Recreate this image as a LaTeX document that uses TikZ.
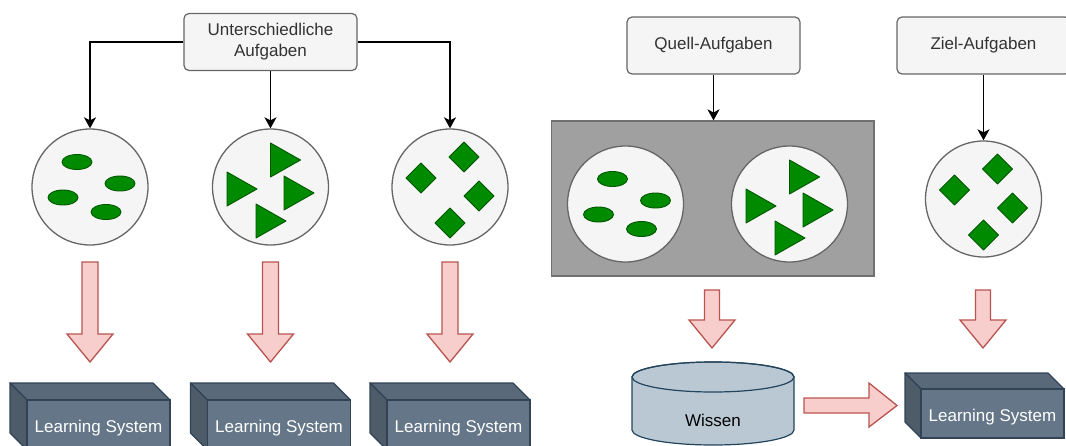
\documentclass[tikz,border=0pt]{standalone}
\usepackage{fontspec}
\setmainfont{Liberation Sans}
\usetikzlibrary{arrows.meta}

\definecolor{boxfill}{HTML}{F5F5F5}
\definecolor{boxline}{HTML}{666666}
\definecolor{boxtext}{HTML}{333333}
\definecolor{leafgreen}{HTML}{008A00}
\definecolor{leafline}{HTML}{005700}
\definecolor{pinkfill}{HTML}{F8CECC}
\definecolor{pinkline}{HTML}{B85450}
\definecolor{cubefront}{HTML}{647687}
\definecolor{cubetop}{HTML}{596979}
\definecolor{cubeside}{HTML}{4E5C6A}
\definecolor{cubeline}{HTML}{314354}
\definecolor{drumfill}{HTML}{BAC8D3}
\definecolor{drumline}{HTML}{23445D}
\definecolor{poolfill}{HTML}{A0A0A0}
\definecolor{poolline}{HTML}{707070}

\tikzset{
  taskbox/.style={draw=boxline, fill=boxfill, rounded corners=5pt, line width=1.2pt,
    minimum width=173pt, minimum height=57pt, align=center, text=boxtext,
    font=\fontsize{17}{21}\selectfont, inner sep=0pt},
  setcircle/.style={circle, draw=boxline, fill=boxfill, line width=1.3pt,
    minimum size=116pt, inner sep=0pt},
  conn/.style={line width=1.5pt, -{Stealth[length=11pt,width=12pt,inset=3pt]}},
  item/.style={fill=leafgreen, draw=leafline, line width=0.9pt, line join=round},
  bigarrow/.style={fill=pinkfill, draw=pinkline, line width=1.3pt, line join=miter},
  cubeface/.style={fill=cubefront, draw=cubeline, line width=1.2pt, inner sep=0pt},
  cubetext/.style={text=white, font=\fontsize{17}{21}\selectfont, inner sep=0pt},
  cubeshade/.style={draw=cubeline, line width=1.2pt, line join=round},
  pool/.style={fill=poolfill, draw=poolline, line width=1.2pt, inner sep=0pt},
}

% four green ovals around a centre
\newcommand\ovalset[2]{%
  \begin{scope}[shift={(#1,#2)}]
    \foreach \dx/\dy in {-13/-25, 30/-3.5, -27/10.5, 16/25}
      \draw[item] (\dx,\dy) ellipse [x radius=15, y radius=7.5];
  \end{scope}}
% four green triangles pointing right
\newcommand\triset[2]{%
  \begin{scope}[shift={(#1,#2)}]
    \foreach \dx/\dy in {0/-44, -43.5/-15, 13.5/-11, -14.5/17}
      \draw[item] (\dx,\dy) -- (\dx,\dy+34) -- (\dx+30,\dy+17) -- cycle;
  \end{scope}}
% four green diamonds
\newcommand\diamset[2]{%
  \begin{scope}[shift={(#1,#2)}]
    \foreach \dx/\dy in {14/-30, -29/-9, 29/9, 0/36}
      \draw[item] (\dx,\dy-15) -- (\dx+15,\dy) -- (\dx,\dy+15) -- (\dx-15,\dy) -- cycle;
  \end{scope}}
% pink block arrow pointing down: centre x, top, neck, tip, half shaft, half head
\newcommand\blockdown[6]{%
  \draw[bigarrow] ({#1-#5},#2) -- ({#1+#5},#2) -- ({#1+#5},#3) -- ({#1+#6},#3)
    -- (#1,#4) -- ({#1-#6},#3) -- ({#1-#5},#3) -- cycle;}
% 3D learning-system block: name, back x, back y, width, height, depth, text drop
\newcommand\lsblock[7]{%
  \draw[cubeshade, fill=cubetop] (#2,#3) -- ({#2+#4},#3) -- ({#2+#4+#6},{#3+#6})
    -- ({#2+#6},{#3+#6}) -- cycle;
  \draw[cubeshade, fill=cubeside] (#2,#3) -- ({#2+#6},{#3+#6}) -- ({#2+#6},{#3+#6+#5})
    -- (#2,{#3+#5}) -- cycle;
  \node[cubeface, minimum width=#4pt, minimum height=#5pt] (#1)
    at ({#2+#6+#4/2},{#3+#6+#5/2}) {};
  \node[cubetext] (#1-label) at ([yshift=-#7pt]#1.center) {Learning System};}

\begin{document}
\begin{tikzpicture}[x=1pt, y=-1pt]
  \useasboundingbox (0,0) rectangle (1066,445);
  \clip (0,0) rectangle (1066,445);

  % ---------- left part: one learner per task ----------
  \node[taskbox] (ua) at (270.5,42) {Unterschiedliche\\Aufgaben};
  \node[setcircle] (c1) at (90,187) {};
  \node[setcircle] (c2) at (270.5,187) {};
  \node[setcircle] (c3) at (450,187) {};
  \ovalset{90}{187}
  \triset{270.5}{187}
  \diamset{450}{187}

  \draw[conn] (ua.west) -| (c1.north);
  \draw[conn] (ua.south) -- (c2.north);
  \draw[conn] (ua.east) -| (c3.north);

  \blockdown{90}{262}{334}{362}{8}{23}
  \blockdown{270.5}{262}{334}{362}{8}{23}
  \blockdown{450}{262}{334}{362}{8}{23}

  \lsblock{ls1}{10}{383}{143}{50}{17}{3}
  \lsblock{ls2}{190.5}{383}{143}{50}{17}{3}
  \lsblock{ls3}{370}{383}{143}{50}{17}{3}

  % ---------- right part: transfer via knowledge ----------
  \node[taskbox] (qa) at (713.5,45.5) {Quell-Aufgaben};
  \node[taskbox] (za) at (983.5,45.5) {Ziel-Aufgaben};

  \node[pool, minimum width=322.5pt, minimum height=155pt] (pool) at (712.75,198.5) {};
  \node[setcircle] (ca) at (625.5,204) {};
  \node[setcircle] (cb) at (789.5,204) {};
  \node[setcircle] (cz) at (983.5,199) {};
  \ovalset{625.5}{204}
  \triset{789.5}{204}
  \diamset{983.5}{199}

  \draw[conn] (qa.south) -- (qa.south |- pool.north);
  \draw[conn] (za.south) -- (cz.north);

  \blockdown{712}{290}{320}{348}{7.5}{23}
  \blockdown{983}{290}{320}{348}{7.5}{23}

  % knowledge store
  \draw[fill=drumfill, draw=drumline, line width=1.2pt]
    (632,377) -- (632,430) arc[start angle=180, end angle=0, x radius=81, y radius=15]
    -- (794,377) arc[start angle=0, end angle=-180, x radius=81, y radius=15] -- cycle;
  \draw[draw=drumline, line width=1.2pt] (713,377) ellipse [x radius=81, y radius=15];
  \node[font=\fontsize{17}{21}\selectfont, text=black] (wissen) at (713,420) {Wissen};

  \lsblock{ls4}{905}{373}{143}{49}{16}{4}

  % transfer arrow from the store to the target learner
  \draw[bigarrow] (804,398) -- (869,398) -- (869,383) -- (897,405.5) -- (869,427)
    -- (869,413) -- (804,413) -- cycle;
\end{tikzpicture}
\end{document}
